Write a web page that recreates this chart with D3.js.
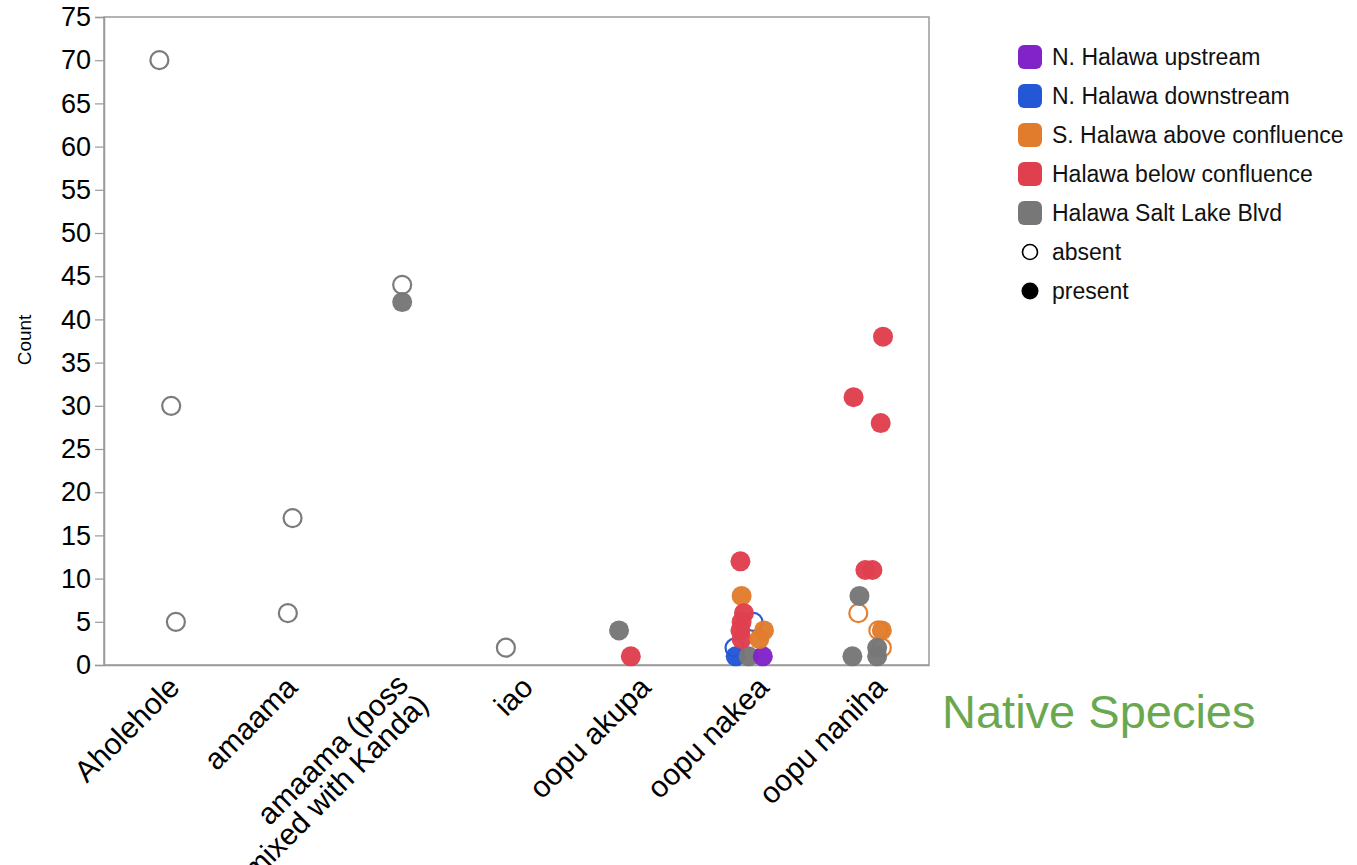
<!DOCTYPE html>
<html>
<head>
<meta charset="utf-8">
<script src="https://cdn.jsdelivr.net/npm/d3@7"></script>
<style>
  html, body { margin: 0; padding: 0; background: #fff; }
  svg { display: block; font-family: "Liberation Sans", Arial, Helvetica, sans-serif; }
</style>
</head>
<body>
<svg id="chart" width="1357" height="865"></svg>
<script>
// ---------- data ----------
const categories = ["Aholehole", "amaama", "amaama (poss mixed with Kanda)", "iao", "oopu akupa", "oopu nakea", "oopu naniha"];
const tickLabelLines = [["Aholehole"], ["amaama"], ["amaama (poss", "mixed with Kanda)"], ["iao"], ["oopu akupa"], ["oopu nakea"], ["oopu naniha"]];
const yTicks = [0, 5, 10, 15, 20, 25, 30, 35, 40, 45, 50, 55, 60, 65, 70, 75];
const sites = ["N. Halawa upstream", "N. Halawa downstream", "S. Halawa above confluence", "Halawa below confluence", "Halawa Salt Lake Blvd"];
const statuses = ["absent", "present"];

// one entry per observation
const pointCategory = [
  "Aholehole", "Aholehole", "Aholehole",
  "amaama", "amaama",
  "amaama (poss mixed with Kanda)", "amaama (poss mixed with Kanda)",
  "iao",
  "oopu akupa", "oopu akupa",
  "oopu nakea", "oopu nakea", "oopu nakea", "oopu nakea", "oopu nakea", "oopu nakea", "oopu nakea",
  "oopu nakea", "oopu nakea", "oopu nakea", "oopu nakea", "oopu nakea", "oopu nakea",
  "oopu naniha", "oopu naniha", "oopu naniha", "oopu naniha", "oopu naniha", "oopu naniha", "oopu naniha",
  "oopu naniha", "oopu naniha", "oopu naniha", "oopu naniha", "oopu naniha", "oopu naniha"
];
const pointCount = [
  70, 30, 5,
  17, 6,
  44, 42,
  2,
  4, 1,
  5, 2, 1, 1, 1, 12, 8,
  6, 5, 4, 3, 4, 3,
  6, 4, 2, 4, 2, 1, 1,
  8, 11, 11, 38, 31, 28
];
const pointSite = [
  "Halawa Salt Lake Blvd", "Halawa Salt Lake Blvd", "Halawa Salt Lake Blvd",
  "Halawa Salt Lake Blvd", "Halawa Salt Lake Blvd",
  "Halawa Salt Lake Blvd", "Halawa Salt Lake Blvd",
  "Halawa Salt Lake Blvd",
  "Halawa Salt Lake Blvd", "Halawa below confluence",
  "N. Halawa downstream", "N. Halawa downstream", "N. Halawa downstream", "Halawa Salt Lake Blvd", "N. Halawa upstream", "Halawa below confluence", "S. Halawa above confluence",
  "Halawa below confluence", "Halawa below confluence", "Halawa below confluence", "Halawa below confluence", "S. Halawa above confluence", "S. Halawa above confluence",
  "S. Halawa above confluence", "S. Halawa above confluence", "S. Halawa above confluence", "S. Halawa above confluence", "Halawa Salt Lake Blvd", "Halawa Salt Lake Blvd", "Halawa Salt Lake Blvd",
  "Halawa Salt Lake Blvd", "Halawa below confluence", "Halawa below confluence", "Halawa below confluence", "Halawa below confluence", "Halawa below confluence"
];
const pointStatus = [
  "absent", "absent", "absent",
  "absent", "absent",
  "absent", "present",
  "absent",
  "present", "present",
  "absent", "absent", "present", "present", "present", "present", "present",
  "present", "present", "present", "present", "present", "present",
  "absent", "absent", "absent", "present", "present", "present", "present",
  "present", "present", "present", "present", "present", "present"
];
// horizontal jitter, as a fraction of the category band (-0.5..0.5)
const pointJitter = [
  -0.03, 0.07, 0.11,
  0.10, 0.06,
  0.03, 0.03,
  -0.09,
  -0.13, -0.03,
  0.01, -0.15, -0.14, -0.03, 0.09, -0.10, -0.09,
  -0.07, -0.09, -0.10, -0.09, 0.10, 0.06,
  -0.10, 0.07, 0.10, 0.10, 0.06, -0.15, 0.06,
  -0.09, -0.04, 0.02, 0.11, -0.14, 0.09
];
const siteColors = ["#8123c9", "#2357d6", "#e17c2c", "#e03f4e", "#777777"];

// ---------- layout ----------
const svg = d3.select("#chart");
const margin = { left: 104, right: 929, top: 17, bottom: 665 };

const x = d3.scaleBand().domain(categories).range([margin.left, margin.right]).padding(0);
const y = d3.scaleLinear().domain([0, 75]).range([margin.bottom, margin.top]);
const color = d3.scaleOrdinal().domain(sites).range(siteColors);

// frame
svg.append("rect")
  .attr("x", margin.left).attr("y", margin.top)
  .attr("width", margin.right - margin.left).attr("height", margin.bottom - margin.top)
  .attr("fill", "none").attr("stroke", "#9a9a9a").attr("stroke-width", 1.5);

// y axis
const yAxis = svg.append("g").attr("transform", `translate(${margin.left},0)`)
  .call(d3.axisLeft(y).tickValues(yTicks).tickSize(9).tickPadding(4));
yAxis.select(".domain").attr("stroke", "#9a9a9a").attr("stroke-width", 1.5);
yAxis.selectAll(".tick line").attr("stroke", "#9a9a9a").attr("stroke-width", 1.2);
yAxis.selectAll(".tick text").attr("font-size", 27).attr("fill", "#000")
  .attr("font-family", "Liberation Sans, Arial, sans-serif");

svg.append("text")
  .attr("transform", `translate(31,340) rotate(-90)`)
  .attr("text-anchor", "middle")
  .attr("font-size", 19).attr("fill", "#000")
  .text("Count");

// x axis labels
const xAxis = svg.append("g").attr("transform", `translate(0,${margin.bottom})`)
  .call(d3.axisBottom(x).tickSize(0).tickFormat(""));
xAxis.select(".domain").attr("stroke", "#9a9a9a").attr("stroke-width", 1.5);

const labelG = svg.append("g");
categories.forEach((c, i) => {
  const cx = x(c) + x.bandwidth() / 2;
  const multi = tickLabelLines[i].length > 1;
  const t = labelG.append("text")
    .attr("transform", `translate(${cx + (multi ? -4 : 3)},${margin.bottom + (multi ? 6 : 9)}) rotate(-45)`)
    .attr("text-anchor", "end")
    .attr("font-size", 30).attr("fill", "#000");
  tickLabelLines[i].forEach((line, j) => {
    t.append("tspan").attr("x", 0).attr("dy", j === 0 ? "0.72em" : "0.95em").text(line);
  });
});

// points
const points = pointCount.map((v, i) => ({
  cat: pointCategory[i], count: v, site: pointSite[i], status: pointStatus[i], jit: pointJitter[i]
}));
svg.append("g").selectAll("circle").data(points).join("circle")
  .attr("cx", d => x(d.cat) + x.bandwidth() * (0.5 + d.jit))
  .attr("cy", d => y(d.count))
  .attr("r", d => d.status === "absent" ? 9 : 10)
  .attr("fill", d => d.status === "absent" ? "none" : color(d.site))
  .attr("stroke", d => d.status === "absent" ? color(d.site) : "none")
  .attr("stroke-width", 2.2)
  .attr("opacity", 0.97);

// legend
const legend = svg.append("g").attr("transform", "translate(1018,57)");
const rowH = 39;
sites.forEach((s, i) => {
  const g = legend.append("g").attr("transform", `translate(0,${i * rowH})`);
  g.append("rect").attr("x", 0).attr("y", -12).attr("width", 24).attr("height", 24)
    .attr("rx", 6).attr("fill", color(s));
  g.append("text").attr("x", 34).attr("y", 0).attr("dy", "0.35em")
    .attr("font-size", 23).attr("fill", "#111").text(s);
});
statuses.forEach((s, i) => {
  const g = legend.append("g").attr("transform", `translate(0,${(sites.length + i) * rowH})`);
  g.append("circle").attr("cx", 12).attr("cy", 0).attr("r", s === "absent" ? 7.5 : 8.5)
    .attr("fill", s === "absent" ? "none" : "#000")
    .attr("stroke", s === "absent" ? "#000" : "none").attr("stroke-width", 1.6);
  g.append("text").attr("x", 34).attr("y", 0).attr("dy", "0.35em")
    .attr("font-size", 23).attr("fill", "#111").text(s);
});

// title
svg.append("text").attr("x", 942).attr("y", 728)
  .attr("font-size", 47).attr("fill", "#6aa84f").text("Native Species");
</script>
</body>
</html>
